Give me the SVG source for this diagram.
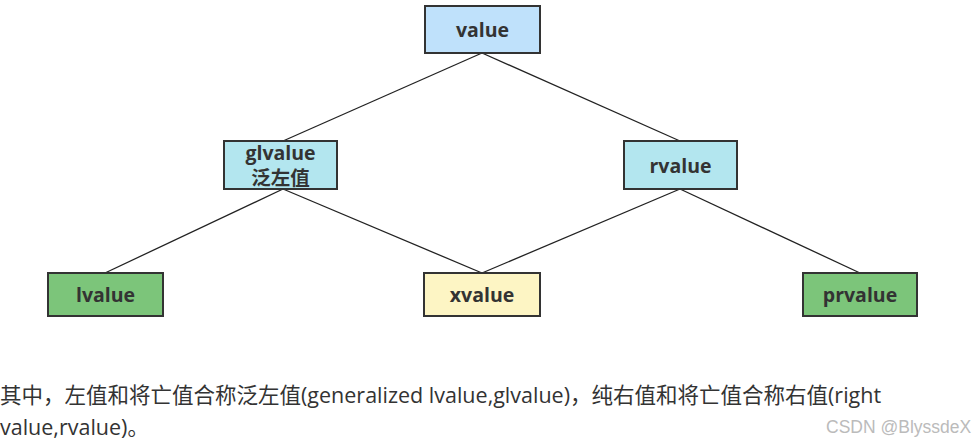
<svg xmlns="http://www.w3.org/2000/svg" width="975" height="445" viewBox="0 0 975 445">
<style>
.box{stroke:#333;stroke-width:2}
.lbl{font-family:"Open Sans","Noto Sans CJK SC",sans-serif;font-weight:bold;font-size:19.5px;fill:#333;text-anchor:middle}
.edge{stroke:#222;stroke-width:1.3;fill:none}
.para{font-family:"Open Sans","Noto Sans CJK SC",sans-serif;font-size:21.5px;fill:#333}
</style>
<rect width="975" height="445" fill="#fff"/>
<g id="connectors">
<line class="edge" x1="482" y1="53" x2="283" y2="141"/>
<line class="edge" x1="482" y1="53" x2="680" y2="141"/>
<line class="edge" x1="283" y1="189" x2="105" y2="273"/>
<line class="edge" x1="283" y1="189" x2="482" y2="273"/>
<line class="edge" x1="680" y1="189" x2="482" y2="273"/>
<line class="edge" x1="680" y1="189" x2="860" y2="273"/>
</g>
<g id="value"><rect class="box" x="425" y="6" width="115" height="47" fill="#bfe1fb"/><text class="lbl" x="482.5" y="37">value</text></g>
<g id="glvalue"><rect class="box" x="224" y="141" width="113" height="48" fill="#b3e6ef"/><text class="lbl" x="280.5" y="160" font-size="19">glvalue</text><text class="lbl" x="280.5" y="185" font-size="19">泛左值</text></g>
<g id="rvalue"><rect class="box" x="624" y="141" width="113" height="48" fill="#b3e6ef"/><text class="lbl" x="680.5" y="173">rvalue</text></g>
<g id="lvalue"><rect class="box" x="48" y="273" width="115" height="43" fill="#7cc57a"/><text class="lbl" x="105.5" y="302">lvalue</text></g>
<g id="xvalue"><rect class="box" x="424" y="273" width="116" height="43" fill="#fdf5c4"/><text class="lbl" x="482" y="302">xvalue</text></g>
<g id="prvalue"><rect class="box" x="803" y="273" width="114" height="43" fill="#7cc57a"/><text class="lbl" x="860" y="302">prvalue</text></g>
<text class="para" x="0" y="403">其中，左值和将亡值合称泛左值(generalized lvalue,glvalue)，纯右值和将亡值合称右值(right</text>
<text class="para" x="0" y="435">value,rvalue)。</text>
<text x="826" y="433" font-family="Liberation Sans, sans-serif" font-size="17.5" fill="#bbb">CSDN @BlyssdeX</text>
</svg>
